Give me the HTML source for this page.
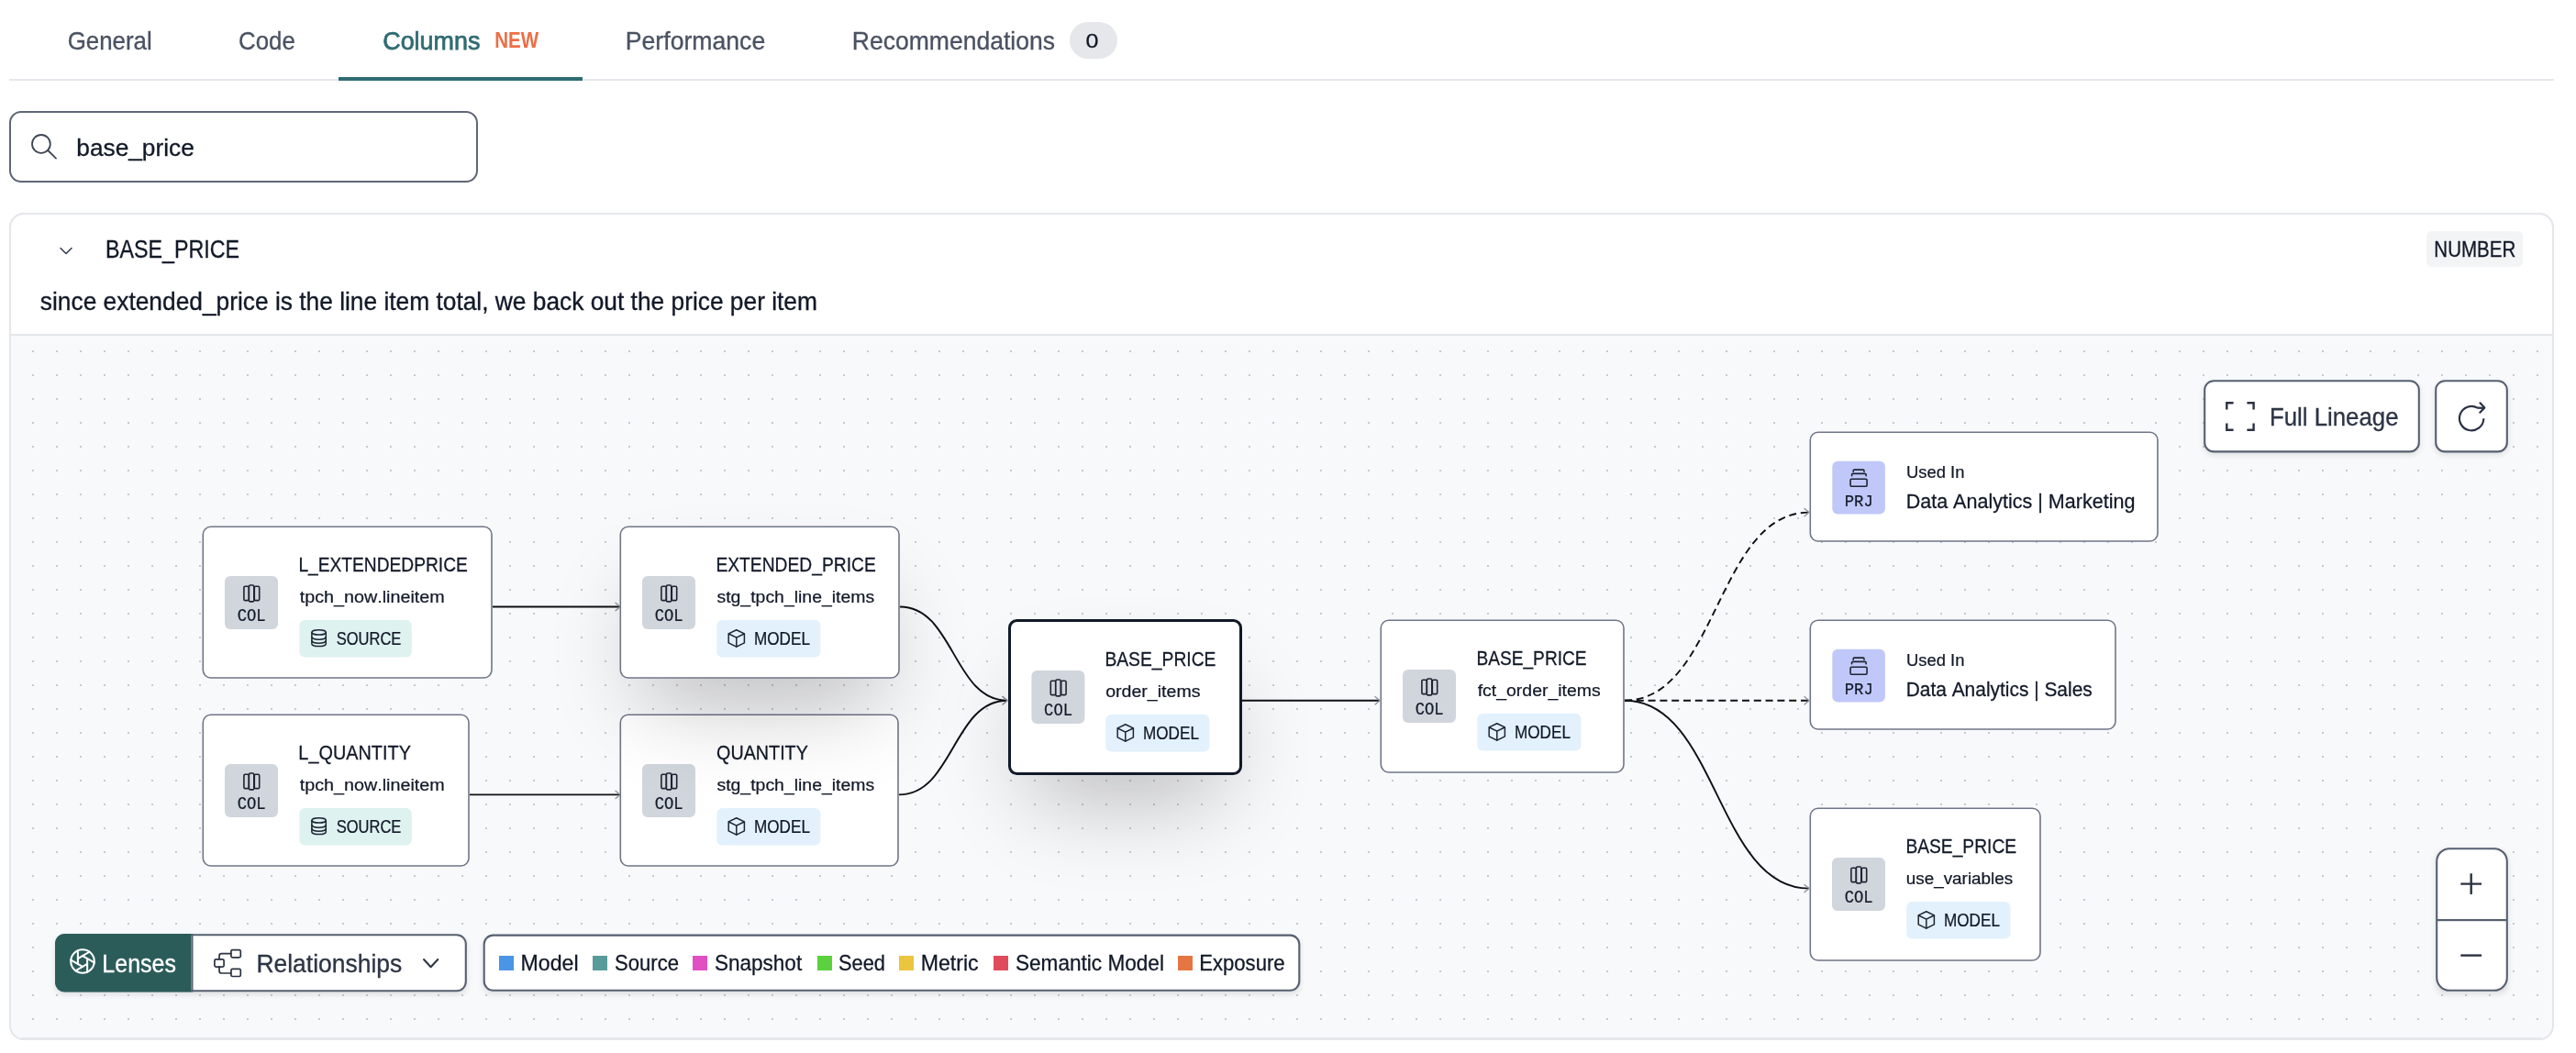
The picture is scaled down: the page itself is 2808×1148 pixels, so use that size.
<!DOCTYPE html>
<html><head><meta charset="utf-8"><title>Columns</title>
<style>
html,body{margin:0;padding:0;background:#ffffff;overflow:hidden}
svg{display:block;width:100vw;height:auto;will-change:transform}
text{font-family:"Liberation Sans",sans-serif;font-kerning:none;white-space:pre}
</style></head><body>
<svg width="2808" height="1148" viewBox="0 0 2808 1148">
<defs>
<pattern id="dots" x="0" y="0" width="26" height="26" patternUnits="userSpaceOnUse"><rect x="35" y="382" width="2" height="2" fill="#c6c9cf" transform="translate(-26,-364)"/></pattern>
<filter id="sh2xl" filterUnits="userSpaceOnUse" x="0" y="0" width="2808" height="1148"><feGaussianBlur stdDeviation="50"/></filter>
<filter id="shS" x="-20%" y="-20%" width="140%" height="160%"><feGaussianBlur stdDeviation="3"/></filter>
<marker id="arr" viewBox="0 0 20 20" refX="19" refY="10" markerWidth="20" markerHeight="20" markerUnits="userSpaceOnUse" orient="auto"><path d="M14 5.8 L19 10 L14 14.2" fill="none" stroke="#8b919c" stroke-width="1.3" stroke-linecap="round" stroke-linejoin="round"/></marker>
<marker id="arrs" viewBox="0 0 20 20" refX="1" refY="10" markerWidth="20" markerHeight="20" markerUnits="userSpaceOnUse" orient="auto"><path d="M9 4 L1 10 L9 16" fill="none" stroke="#8b919c" stroke-width="1.6" stroke-linecap="round" stroke-linejoin="round"/></marker>
<clipPath id="cardclip"><rect x="11" y="233" width="2772" height="900" rx="15"/></clipPath>
</defs>
<text x="73.70" y="54.00" font-size="27.60" fill="#4a5262" textLength="92.03" lengthAdjust="spacingAndGlyphs" stroke="#4a5262" stroke-width="0.33">General</text>
<text x="260.09" y="54.00" font-size="27.60" fill="#4a5262" textLength="61.76" lengthAdjust="spacingAndGlyphs" stroke="#4a5262" stroke-width="0.33">Code</text>
<text x="417.23" y="54.00" font-size="27.60" fill="#306b72" textLength="106.14" lengthAdjust="spacingAndGlyphs" stroke="#306b72" stroke-width="0.75">Columns</text>
<text x="539.13" y="52.00" font-size="23.70" fill="#ec6f47" textLength="47.89" lengthAdjust="spacingAndGlyphs" font-weight="bold">NEW</text>
<text x="681.82" y="54.00" font-size="27.60" fill="#4a5262" textLength="152.37" lengthAdjust="spacingAndGlyphs" stroke="#4a5262" stroke-width="0.33">Performance</text>
<text x="928.82" y="54.00" font-size="27.60" fill="#4a5262" textLength="221.13" lengthAdjust="spacingAndGlyphs" stroke="#4a5262" stroke-width="0.33">Recommendations</text>
<rect x="1166.00" y="24.00" width="52.00" height="40.00" rx="20.00" fill="#e5e7eb"/>
<text x="1183.52" y="51.80" font-size="21.50" fill="#111827" textLength="13.96" lengthAdjust="spacingAndGlyphs" stroke="#111827" stroke-width="0.26">0</text>
<rect x="10.00" y="86.00" width="2774.00" height="2.00" rx="0.00" fill="#e5e7eb"/>
<rect x="369.00" y="84.00" width="266.00" height="4.00" rx="0.00" fill="#306b72"/>
<rect x="11.00" y="122.00" width="509.00" height="76.00" rx="12.00" fill="#fff" stroke="#5f6675" stroke-width="2"/>
<circle cx="44.9" cy="156.9" r="9.9" fill="none" stroke="#3f4654" stroke-width="1.8"/>
<path d="M52.3 164 L61 172.6" fill="none" stroke="#3f4654" stroke-width="1.8" stroke-linecap="round" stroke-linejoin="round"/>
<text x="83.31" y="169.80" font-size="26.00" fill="#111827" textLength="128.46" lengthAdjust="spacingAndGlyphs" stroke="#111827" stroke-width="0.31">base_price</text>
<rect x="11.00" y="233.00" width="2772.00" height="900.00" rx="15.00" fill="#ffffff" stroke="#e5e7eb" stroke-width="2"/>
<g clip-path="url(#cardclip)">
<rect x="11.00" y="365.00" width="2772.00" height="770.00" rx="0.00" fill="#f8f9fb"/>
<rect x="11.00" y="365.00" width="2772.00" height="770.00" rx="0.00" fill="url(#dots)"/>
</g>
<rect x="11.00" y="364.00" width="2772.00" height="2.00" rx="0.00" fill="#e3e5ea"/>
<rect x="11.00" y="233.00" width="2772.00" height="900.00" rx="15.00" fill="none" stroke="#e5e7eb" stroke-width="2"/>
<rect x="24.00" y="1131.00" width="2746.00" height="3.00" rx="0.00" fill="#e5e7eb"/>
<path d="M66 270.5 L72 276.5 L78 270.5" fill="none" stroke="#374151" stroke-width="1.6" stroke-linecap="round" stroke-linejoin="round"/>
<text x="115.09" y="281.00" font-size="27.60" fill="#111827" textLength="145.90" lengthAdjust="spacingAndGlyphs" stroke="#111827" stroke-width="0.33">BASE_PRICE</text>
<rect x="2645.00" y="252.00" width="105.00" height="39.00" rx="6.00" fill="#f3f4f6"/>
<text x="2653.31" y="280.00" font-size="23.30" fill="#111827" textLength="89.04" lengthAdjust="spacingAndGlyphs" stroke="#111827" stroke-width="0.28">NUMBER</text>
<text x="43.87" y="337.80" font-size="28.00" fill="#111827" textLength="847.07" lengthAdjust="spacingAndGlyphs" stroke="#111827" stroke-width="0.34">since extended_price is the line item total, we back out the price per item</text>
<path d="M537 661.5 L676 661.5" fill="none" stroke="#0e1014" stroke-width="1.9" marker-end="url(#arr)"/>
<path d="M512 866.4 L676 866.4" fill="none" stroke="#0e1014" stroke-width="1.9" marker-end="url(#arr)"/>
<path d="M981.0 661.5 C1039.5 661.5 1039.5 763.7 1098.0 763.7" fill="none" stroke="#0e1014" stroke-width="1.9" marker-end="url(#arr)"/>
<path d="M980.0 866.4 C1039.0 866.4 1039.0 763.7 1098.0 763.7" fill="none" stroke="#0e1014" stroke-width="1.9" marker-end="url(#arr)"/>
<path d="M1354 763.7 L1504 763.7" fill="none" stroke="#0e1014" stroke-width="1.9" marker-end="url(#arr)"/>
<path d="M1771.0 763.7 C1871.5 763.7 1871.5 558.6 1972.0 558.6" fill="none" stroke="#0e1014" stroke-width="1.9" marker-end="url(#arr)" stroke-dasharray="8 4.8"/>
<path d="M1771 763.7 L1972 763.7" fill="none" stroke="#0e1014" stroke-width="1.9" marker-end="url(#arr)" stroke-dasharray="8 4.8"/>
<path d="M1771.0 763.7 C1871.5 763.7 1871.5 968.6 1972.0 968.6" fill="none" stroke="#0e1014" stroke-width="1.9" marker-end="url(#arr)"/>
<rect x="221.30" y="574.30" width="314.70" height="164.70" rx="8.50" fill="#fff" stroke="#6f7687" stroke-width="1.6"/>
<rect x="245.00" y="628.00" width="58.00" height="58.00" rx="6.00" fill="#d1d5dc"/>
<rect x="265.90" y="639.20" width="5.40" height="15.40" rx="1.40" fill="none" stroke="#1e2433" stroke-width="1.6"/>
<rect x="277.30" y="639.20" width="5.40" height="15.40" rx="1.40" fill="none" stroke="#1e2433" stroke-width="1.6"/>
<rect x="271.40" y="638.00" width="5.40" height="17.90" rx="1.40" fill="#d1d5dc" stroke="#1e2433" stroke-width="1.6"/>
<text x="258.65" y="677.00" font-size="19.40" fill="#111827" textLength="31.04" lengthAdjust="spacingAndGlyphs" style="font-family:'Liberation Mono',monospace" stroke="#111827" stroke-width="0.23">COL</text>
<text x="325.43" y="622.70" font-size="22.10" fill="#111827" textLength="184.40" lengthAdjust="spacingAndGlyphs" stroke="#111827" stroke-width="0.27">L_EXTENDEDPRICE</text>
<text x="326.70" y="656.90" font-size="18.30" fill="#111827" textLength="158.00" lengthAdjust="spacingAndGlyphs" stroke="#111827" stroke-width="0.22">tpch_now.lineitem</text>
<rect x="326.30" y="676.00" width="122.50" height="40.50" rx="6.00" fill="#def2f0"/>
<ellipse cx="347.60" cy="689.40" rx="7.7" ry="2.6" fill="none" stroke="#1e2433" stroke-width="1.5"/>
<path d="M339.90 689.40 v12.6 a7.7 2.6 0 0 0 15.4 0 v-12.6" fill="none" stroke="#1e2433" stroke-width="1.5" stroke-linecap="round" stroke-linejoin="round"/>
<path d="M339.90 694.60 a7.7 2.6 0 0 0 15.4 0" fill="none" stroke="#1e2433" stroke-width="1.5" stroke-linecap="round" stroke-linejoin="round"/>
<path d="M339.90 698.60 a7.7 2.6 0 0 0 15.4 0" fill="none" stroke="#1e2433" stroke-width="1.5" stroke-linecap="round" stroke-linejoin="round"/>
<text x="366.65" y="702.90" font-size="19.60" fill="#111827" textLength="70.76" lengthAdjust="spacingAndGlyphs" stroke="#111827" stroke-width="0.24">SOURCE</text>
<rect x="221.30" y="779.30" width="289.70" height="164.70" rx="8.50" fill="#fff" stroke="#6f7687" stroke-width="1.6"/>
<rect x="245.00" y="833.00" width="58.00" height="58.00" rx="6.00" fill="#d1d5dc"/>
<rect x="265.90" y="844.20" width="5.40" height="15.40" rx="1.40" fill="none" stroke="#1e2433" stroke-width="1.6"/>
<rect x="277.30" y="844.20" width="5.40" height="15.40" rx="1.40" fill="none" stroke="#1e2433" stroke-width="1.6"/>
<rect x="271.40" y="843.00" width="5.40" height="17.90" rx="1.40" fill="#d1d5dc" stroke="#1e2433" stroke-width="1.6"/>
<text x="258.65" y="882.00" font-size="19.40" fill="#111827" textLength="31.04" lengthAdjust="spacingAndGlyphs" style="font-family:'Liberation Mono',monospace" stroke="#111827" stroke-width="0.23">COL</text>
<text x="325.37" y="827.70" font-size="22.10" fill="#111827" textLength="122.57" lengthAdjust="spacingAndGlyphs" stroke="#111827" stroke-width="0.27">L_QUANTITY</text>
<text x="326.70" y="861.90" font-size="18.30" fill="#111827" textLength="158.00" lengthAdjust="spacingAndGlyphs" stroke="#111827" stroke-width="0.22">tpch_now.lineitem</text>
<rect x="326.30" y="881.00" width="122.50" height="40.50" rx="6.00" fill="#def2f0"/>
<ellipse cx="347.60" cy="894.40" rx="7.7" ry="2.6" fill="none" stroke="#1e2433" stroke-width="1.5"/>
<path d="M339.90 894.40 v12.6 a7.7 2.6 0 0 0 15.4 0 v-12.6" fill="none" stroke="#1e2433" stroke-width="1.5" stroke-linecap="round" stroke-linejoin="round"/>
<path d="M339.90 899.60 a7.7 2.6 0 0 0 15.4 0" fill="none" stroke="#1e2433" stroke-width="1.5" stroke-linecap="round" stroke-linejoin="round"/>
<path d="M339.90 903.60 a7.7 2.6 0 0 0 15.4 0" fill="none" stroke="#1e2433" stroke-width="1.5" stroke-linecap="round" stroke-linejoin="round"/>
<text x="366.65" y="907.90" font-size="19.60" fill="#111827" textLength="70.76" lengthAdjust="spacingAndGlyphs" stroke="#111827" stroke-width="0.24">SOURCE</text>
<rect x="676.30" y="779.30" width="302.70" height="164.70" rx="8.50" fill="#fff" stroke="#6f7687" stroke-width="1.6"/>
<rect x="700.00" y="833.00" width="58.00" height="58.00" rx="6.00" fill="#d1d5dc"/>
<rect x="720.90" y="844.20" width="5.40" height="15.40" rx="1.40" fill="none" stroke="#1e2433" stroke-width="1.6"/>
<rect x="732.30" y="844.20" width="5.40" height="15.40" rx="1.40" fill="none" stroke="#1e2433" stroke-width="1.6"/>
<rect x="726.40" y="843.00" width="5.40" height="17.90" rx="1.40" fill="#d1d5dc" stroke="#1e2433" stroke-width="1.6"/>
<text x="713.65" y="882.00" font-size="19.40" fill="#111827" textLength="31.04" lengthAdjust="spacingAndGlyphs" style="font-family:'Liberation Mono',monospace" stroke="#111827" stroke-width="0.23">COL</text>
<text x="781.07" y="827.70" font-size="22.10" fill="#111827" textLength="99.77" lengthAdjust="spacingAndGlyphs" stroke="#111827" stroke-width="0.27">QUANTITY</text>
<text x="781.46" y="861.90" font-size="18.30" fill="#111827" textLength="171.74" lengthAdjust="spacingAndGlyphs" stroke="#111827" stroke-width="0.22">stg_tpch_line_items</text>
<rect x="781.30" y="881.00" width="113.10" height="40.50" rx="6.00" fill="#e2f1fc"/>
<path d="M802.80 891.80 L811.40 895.90 L811.40 905.80 L802.80 910.20 L794.20 905.80 L794.20 895.90 Z" fill="none" stroke="#1e2433" stroke-width="1.5" stroke-linecap="round" stroke-linejoin="round"/>
<path d="M794.40 896.00 L802.80 900.10 L811.20 896.00 M802.80 900.10 V910.00" fill="none" stroke="#1e2433" stroke-width="1.5" stroke-linecap="round" stroke-linejoin="round"/>
<text x="821.99" y="907.80" font-size="19.60" fill="#111827" textLength="60.98" lengthAdjust="spacingAndGlyphs" stroke="#111827" stroke-width="0.24">MODEL</text>
<rect x="701" y="648" width="256" height="118" fill="#000" opacity="0.25" filter="url(#sh2xl)"/>
<rect x="676.30" y="574.30" width="303.70" height="164.70" rx="8.50" fill="#fff" stroke="#6f7687" stroke-width="1.6"/>
<rect x="700.00" y="628.00" width="58.00" height="58.00" rx="6.00" fill="#d1d5dc"/>
<rect x="720.90" y="639.20" width="5.40" height="15.40" rx="1.40" fill="none" stroke="#1e2433" stroke-width="1.6"/>
<rect x="732.30" y="639.20" width="5.40" height="15.40" rx="1.40" fill="none" stroke="#1e2433" stroke-width="1.6"/>
<rect x="726.40" y="638.00" width="5.40" height="17.90" rx="1.40" fill="#d1d5dc" stroke="#1e2433" stroke-width="1.6"/>
<text x="713.65" y="677.00" font-size="19.40" fill="#111827" textLength="31.04" lengthAdjust="spacingAndGlyphs" style="font-family:'Liberation Mono',monospace" stroke="#111827" stroke-width="0.23">COL</text>
<text x="780.42" y="622.70" font-size="22.10" fill="#111827" textLength="174.41" lengthAdjust="spacingAndGlyphs" stroke="#111827" stroke-width="0.27">EXTENDED_PRICE</text>
<text x="781.46" y="656.90" font-size="18.30" fill="#111827" textLength="171.74" lengthAdjust="spacingAndGlyphs" stroke="#111827" stroke-width="0.22">stg_tpch_line_items</text>
<rect x="781.30" y="676.00" width="113.10" height="40.50" rx="6.00" fill="#e2f1fc"/>
<path d="M802.80 686.80 L811.40 690.90 L811.40 700.80 L802.80 705.20 L794.20 700.80 L794.20 690.90 Z" fill="none" stroke="#1e2433" stroke-width="1.5" stroke-linecap="round" stroke-linejoin="round"/>
<path d="M794.40 691.00 L802.80 695.10 L811.20 691.00 M802.80 695.10 V705.00" fill="none" stroke="#1e2433" stroke-width="1.5" stroke-linecap="round" stroke-linejoin="round"/>
<text x="821.99" y="702.80" font-size="19.60" fill="#111827" textLength="60.98" lengthAdjust="spacingAndGlyphs" stroke="#111827" stroke-width="0.24">MODEL</text>
<rect x="1123" y="749" width="207" height="122" fill="#000" opacity="0.25" filter="url(#sh2xl)"/>
<rect x="1100.50" y="676.50" width="252.00" height="167.00" rx="8.00" fill="#fff" stroke="#111827" stroke-width="3"/>
<rect x="1124.40" y="731.00" width="58.00" height="58.00" rx="6.00" fill="#d1d5dc"/>
<rect x="1145.30" y="742.20" width="5.40" height="15.40" rx="1.40" fill="none" stroke="#1e2433" stroke-width="1.6"/>
<rect x="1156.70" y="742.20" width="5.40" height="15.40" rx="1.40" fill="none" stroke="#1e2433" stroke-width="1.6"/>
<rect x="1150.80" y="741.00" width="5.40" height="17.90" rx="1.40" fill="#d1d5dc" stroke="#1e2433" stroke-width="1.6"/>
<text x="1138.05" y="780.00" font-size="19.40" fill="#111827" textLength="31.04" lengthAdjust="spacingAndGlyphs" style="font-family:'Liberation Mono',monospace" stroke="#111827" stroke-width="0.23">COL</text>
<text x="1204.42" y="725.70" font-size="22.10" fill="#111827" textLength="121.01" lengthAdjust="spacingAndGlyphs" stroke="#111827" stroke-width="0.27">BASE_PRICE</text>
<text x="1205.18" y="759.90" font-size="18.30" fill="#111827" textLength="103.33" lengthAdjust="spacingAndGlyphs" stroke="#111827" stroke-width="0.22">order_items</text>
<rect x="1205.30" y="779.00" width="113.10" height="40.50" rx="6.00" fill="#e2f1fc"/>
<path d="M1226.80 789.80 L1235.40 793.90 L1235.40 803.80 L1226.80 808.20 L1218.20 803.80 L1218.20 793.90 Z" fill="none" stroke="#1e2433" stroke-width="1.5" stroke-linecap="round" stroke-linejoin="round"/>
<path d="M1218.40 794.00 L1226.80 798.10 L1235.20 794.00 M1226.80 798.10 V808.00" fill="none" stroke="#1e2433" stroke-width="1.5" stroke-linecap="round" stroke-linejoin="round"/>
<text x="1245.99" y="805.80" font-size="19.60" fill="#111827" textLength="60.98" lengthAdjust="spacingAndGlyphs" stroke="#111827" stroke-width="0.24">MODEL</text>
<rect x="1505.30" y="676.30" width="264.70" height="165.70" rx="8.50" fill="#fff" stroke="#6f7687" stroke-width="1.6"/>
<rect x="1529.00" y="730.00" width="58.00" height="58.00" rx="6.00" fill="#d1d5dc"/>
<rect x="1549.90" y="741.20" width="5.40" height="15.40" rx="1.40" fill="none" stroke="#1e2433" stroke-width="1.6"/>
<rect x="1561.30" y="741.20" width="5.40" height="15.40" rx="1.40" fill="none" stroke="#1e2433" stroke-width="1.6"/>
<rect x="1555.40" y="740.00" width="5.40" height="17.90" rx="1.40" fill="#d1d5dc" stroke="#1e2433" stroke-width="1.6"/>
<text x="1542.65" y="779.00" font-size="19.40" fill="#111827" textLength="31.04" lengthAdjust="spacingAndGlyphs" style="font-family:'Liberation Mono',monospace" stroke="#111827" stroke-width="0.23">COL</text>
<text x="1609.43" y="724.70" font-size="22.10" fill="#111827" textLength="120.19" lengthAdjust="spacingAndGlyphs" stroke="#111827" stroke-width="0.27">BASE_PRICE</text>
<text x="1610.72" y="758.90" font-size="18.30" fill="#111827" textLength="133.98" lengthAdjust="spacingAndGlyphs" stroke="#111827" stroke-width="0.22">fct_order_items</text>
<rect x="1610.30" y="778.00" width="113.10" height="40.50" rx="6.00" fill="#e2f1fc"/>
<path d="M1631.80 788.80 L1640.40 792.90 L1640.40 802.80 L1631.80 807.20 L1623.20 802.80 L1623.20 792.90 Z" fill="none" stroke="#1e2433" stroke-width="1.5" stroke-linecap="round" stroke-linejoin="round"/>
<path d="M1623.40 793.00 L1631.80 797.10 L1640.20 793.00 M1631.80 797.10 V807.00" fill="none" stroke="#1e2433" stroke-width="1.5" stroke-linecap="round" stroke-linejoin="round"/>
<text x="1650.99" y="804.80" font-size="19.60" fill="#111827" textLength="60.98" lengthAdjust="spacingAndGlyphs" stroke="#111827" stroke-width="0.24">MODEL</text>
<rect x="1973.30" y="471.30" width="378.70" height="118.70" rx="8.50" fill="#fff" stroke="#6f7687" stroke-width="1.6"/>
<rect x="1997.30" y="502.80" width="57.60" height="57.80" rx="6.00" fill="#bfc8f8"/>
<rect x="2017.10" y="522.20" width="18.00" height="8.00" rx="1.20" fill="none" stroke="#1e2433" stroke-width="1.6"/>
<path d="M2018.6 518.8 v-1.2 q0 -1.2 1.2 -1.2 h13.1 q1.2 0 1.2 1.2 v1.2" fill="none" stroke="#1e2433" stroke-width="1.6" stroke-linecap="round" stroke-linejoin="round"/>
<path d="M2020.2 514.2 v-0.9 q0 -1.2 1.2 -1.2 h9.4 q1.2 0 1.2 1.2 v0.9" fill="none" stroke="#1e2433" stroke-width="1.6" stroke-linecap="round" stroke-linejoin="round"/>
<text x="2010.74" y="552.00" font-size="19.20" fill="#111827" textLength="31.01" lengthAdjust="spacingAndGlyphs" style="font-family:'Liberation Mono',monospace" stroke="#111827" stroke-width="0.23">PRJ</text>
<text x="2077.98" y="521.20" font-size="19.20" fill="#111827" textLength="63.41" lengthAdjust="spacingAndGlyphs" stroke="#111827" stroke-width="0.23">Used In</text>
<text x="2077.63" y="553.90" font-size="22.10" fill="#111827" textLength="249.75" lengthAdjust="spacingAndGlyphs" stroke="#111827" stroke-width="0.27">Data Analytics | Marketing</text>
<rect x="1973.30" y="676.30" width="332.70" height="118.70" rx="8.50" fill="#fff" stroke="#6f7687" stroke-width="1.6"/>
<rect x="1997.30" y="707.80" width="57.60" height="57.80" rx="6.00" fill="#bfc8f8"/>
<rect x="2017.10" y="727.20" width="18.00" height="8.00" rx="1.20" fill="none" stroke="#1e2433" stroke-width="1.6"/>
<path d="M2018.6 723.8 v-1.2 q0 -1.2 1.2 -1.2 h13.1 q1.2 0 1.2 1.2 v1.2" fill="none" stroke="#1e2433" stroke-width="1.6" stroke-linecap="round" stroke-linejoin="round"/>
<path d="M2020.2 719.2 v-0.9 q0 -1.2 1.2 -1.2 h9.4 q1.2 0 1.2 1.2 v0.9" fill="none" stroke="#1e2433" stroke-width="1.6" stroke-linecap="round" stroke-linejoin="round"/>
<text x="2010.74" y="757.00" font-size="19.20" fill="#111827" textLength="31.01" lengthAdjust="spacingAndGlyphs" style="font-family:'Liberation Mono',monospace" stroke="#111827" stroke-width="0.23">PRJ</text>
<text x="2077.98" y="726.20" font-size="19.20" fill="#111827" textLength="63.41" lengthAdjust="spacingAndGlyphs" stroke="#111827" stroke-width="0.23">Used In</text>
<text x="2077.68" y="758.90" font-size="22.10" fill="#111827" textLength="203.07" lengthAdjust="spacingAndGlyphs" stroke="#111827" stroke-width="0.27">Data Analytics | Sales</text>
<rect x="1973.30" y="881.30" width="250.70" height="165.70" rx="8.50" fill="#fff" stroke="#6f7687" stroke-width="1.6"/>
<rect x="1997.00" y="935.00" width="58.00" height="58.00" rx="6.00" fill="#d1d5dc"/>
<rect x="2017.90" y="946.20" width="5.40" height="15.40" rx="1.40" fill="none" stroke="#1e2433" stroke-width="1.6"/>
<rect x="2029.30" y="946.20" width="5.40" height="15.40" rx="1.40" fill="none" stroke="#1e2433" stroke-width="1.6"/>
<rect x="2023.40" y="945.00" width="5.40" height="17.90" rx="1.40" fill="#d1d5dc" stroke="#1e2433" stroke-width="1.6"/>
<text x="2010.65" y="984.00" font-size="19.40" fill="#111827" textLength="31.04" lengthAdjust="spacingAndGlyphs" style="font-family:'Liberation Mono',monospace" stroke="#111827" stroke-width="0.23">COL</text>
<text x="2077.42" y="929.70" font-size="22.10" fill="#111827" textLength="120.70" lengthAdjust="spacingAndGlyphs" stroke="#111827" stroke-width="0.27">BASE_PRICE</text>
<text x="2077.77" y="963.90" font-size="18.30" fill="#111827" textLength="116.41" lengthAdjust="spacingAndGlyphs" stroke="#111827" stroke-width="0.22">use_variables</text>
<rect x="2078.30" y="983.00" width="113.10" height="40.50" rx="6.00" fill="#e2f1fc"/>
<path d="M2099.80 993.80 L2108.40 997.90 L2108.40 1007.80 L2099.80 1012.20 L2091.20 1007.80 L2091.20 997.90 Z" fill="none" stroke="#1e2433" stroke-width="1.5" stroke-linecap="round" stroke-linejoin="round"/>
<path d="M2091.40 998.00 L2099.80 1002.10 L2108.20 998.00 M2099.80 1002.10 V1012.00" fill="none" stroke="#1e2433" stroke-width="1.5" stroke-linecap="round" stroke-linejoin="round"/>
<text x="2118.99" y="1009.80" font-size="19.60" fill="#111827" textLength="60.98" lengthAdjust="spacingAndGlyphs" stroke="#111827" stroke-width="0.24">MODEL</text>
<rect x="2402.0" y="417.0" width="236.0" height="79.0" rx="10" fill="#000" opacity="0.10" filter="url(#shS)"/>
<rect x="2403.20" y="415.20" width="233.60" height="77.20" rx="10.00" fill="#fff" stroke="#566070" stroke-width="2.1"/>
<path d="M2427.3 446.5 V439.3 H2434.6 M2449.4 439.3 H2456.6 V446.5 M2456.6 461.5 V468.7 H2449.4 M2434.6 468.7 H2427.3 V461.5" fill="none" stroke="#2b3242" stroke-width="2.4" stroke-linecap="butt" stroke-linejoin="miter"/>
<text x="2473.88" y="464.20" font-size="27.60" fill="#2d3545" textLength="140.67" lengthAdjust="spacingAndGlyphs" stroke="#2d3545" stroke-width="0.33">Full Lineage</text>
<rect x="2654.0" y="417.0" width="80.0" height="79.0" rx="10" fill="#000" opacity="0.10" filter="url(#shS)"/>
<rect x="2655.20" y="415.20" width="77.60" height="77.20" rx="10.00" fill="#fff" stroke="#566070" stroke-width="2.1"/>
<path d="M2707.3 457 A13.2 13.2 0 1 1 2700.6 444.6 L2707.8 444.8" fill="none" stroke="#2b3242" stroke-width="2.2" stroke-linecap="round" stroke-linejoin="round"/>
<path d="M2703.5 439.3 L2708.3 444.6 L2703.3 449.7" fill="none" stroke="#2b3242" stroke-width="2.2" stroke-linecap="round" stroke-linejoin="round"/>
<rect x="2655.0" y="927.0" width="79.0" height="157.0" rx="10" fill="#000" opacity="0.10" filter="url(#shS)"/>
<rect x="2656.20" y="925.20" width="76.60" height="154.60" rx="14.00" fill="#fff" stroke="#566070" stroke-width="2.1"/>
<rect x="2656.00" y="1002.00" width="77.00" height="2.20" rx="0.00" fill="#566070"/>
<path d="M2682.3 963.6 H2705.1 M2693.7 952.3 V975" fill="none" stroke="#2b3242" stroke-width="2.4" stroke-linejoin="round" stroke-linecap="butt"/>
<path d="M2682.3 1041.6 H2705.1" fill="none" stroke="#2b3242" stroke-width="2.4" stroke-linejoin="round" stroke-linecap="butt"/>
<rect x="60.0" y="1021.0" width="449.0" height="63.5" rx="10" fill="#000" opacity="0.10" filter="url(#shS)"/>
<rect x="61.20" y="1019.20" width="446.60" height="61.10" rx="10.00" fill="#fff" stroke="#566070" stroke-width="2.1"/>
<path d="M70 1018 H208.5 V1081.5 H70 A10 10 0 0 1 60 1071.5 V1028 A10 10 0 0 1 70 1018 Z" fill="#2b5c5a"/>
<g transform="translate(90,1048) rotate(90) scale(1.28) translate(-12,-12)" fill="none" stroke="#fff" stroke-width="1.6" stroke-linecap="round" stroke-linejoin="round"><circle cx="12" cy="12" r="10"/><path d="m14.31 8 5.74 9.94"/><path d="M9.69 8h11.48"/><path d="m7.38 12 5.74-9.94"/><path d="M9.69 16 3.95 6.06"/><path d="M14.31 16H2.83"/><path d="m16.62 12-5.74 9.94"/></g>
<rect x="208.50" y="1018.00" width="2.00" height="63.50" rx="0.00" fill="#5b6272"/>
<text x="111.35" y="1059.80" font-size="27.30" fill="#ffffff" textLength="80.55" lengthAdjust="spacingAndGlyphs" stroke="#ffffff" stroke-width="0.33">Lenses</text>
<rect x="233.90" y="1045.80" width="10.20" height="8.40" rx="1.60" fill="none" stroke="#2b3242" stroke-width="1.7"/>
<rect x="251.90" y="1035.60" width="10.40" height="8.20" rx="1.60" fill="none" stroke="#2b3242" stroke-width="1.7"/>
<rect x="251.90" y="1056.30" width="10.40" height="8.20" rx="1.60" fill="none" stroke="#2b3242" stroke-width="1.7"/>
<path d="M239 1045.8 V1042.2 Q239 1039.7 241.5 1039.7 H251.9 M239 1054.2 V1058.5 Q239 1061 241.5 1061 H251.9" fill="none" stroke="#2b3242" stroke-width="1.7" stroke-linecap="round" stroke-linejoin="round"/>
<text x="279.43" y="1060.00" font-size="27.30" fill="#2d3545" textLength="158.83" lengthAdjust="spacingAndGlyphs" stroke="#2d3545" stroke-width="0.33">Relationships</text>
<path d="M462 1046 L469.6 1054.2 L477.3 1046" fill="none" stroke="#2b3242" stroke-width="2" stroke-linecap="round" stroke-linejoin="round"/>
<rect x="526.5" y="1021.4" width="891.0" height="62.6" rx="10" fill="#000" opacity="0.10" filter="url(#shS)"/>
<rect x="527.70" y="1019.60" width="888.60" height="60.20" rx="10.00" fill="#fff" stroke="#566070" stroke-width="2.1"/>
<rect x="544.00" y="1042.00" width="16.00" height="16.00" rx="0.00" fill="#4a95e5"/>
<text x="567.50" y="1057.70" font-size="23.80" fill="#111827" textLength="63.05" lengthAdjust="spacingAndGlyphs" stroke="#111827" stroke-width="0.29">Model</text>
<rect x="646.00" y="1042.00" width="16.00" height="16.00" rx="0.00" fill="#579c9b"/>
<text x="670.00" y="1057.70" font-size="23.80" fill="#111827" textLength="69.98" lengthAdjust="spacingAndGlyphs" stroke="#111827" stroke-width="0.29">Source</text>
<rect x="755.00" y="1042.00" width="16.00" height="16.00" rx="0.00" fill="#e24fc3"/>
<text x="778.98" y="1057.70" font-size="23.80" fill="#111827" textLength="95.19" lengthAdjust="spacingAndGlyphs" stroke="#111827" stroke-width="0.29">Snapshot</text>
<rect x="891.00" y="1042.00" width="16.00" height="16.00" rx="0.00" fill="#5ad13d"/>
<text x="914.01" y="1057.70" font-size="23.80" fill="#111827" textLength="50.89" lengthAdjust="spacingAndGlyphs" stroke="#111827" stroke-width="0.29">Seed</text>
<rect x="980.00" y="1042.00" width="16.00" height="16.00" rx="0.00" fill="#ecc53f"/>
<text x="1003.70" y="1057.70" font-size="23.80" fill="#111827" textLength="62.90" lengthAdjust="spacingAndGlyphs" stroke="#111827" stroke-width="0.29">Metric</text>
<rect x="1083.00" y="1042.00" width="16.00" height="16.00" rx="0.00" fill="#e04b5c"/>
<text x="1106.97" y="1057.70" font-size="23.80" fill="#111827" textLength="161.94" lengthAdjust="spacingAndGlyphs" stroke="#111827" stroke-width="0.29">Semantic Model</text>
<rect x="1284.00" y="1042.00" width="16.00" height="16.00" rx="0.00" fill="#e57643"/>
<text x="1307.18" y="1057.70" font-size="23.80" fill="#111827" textLength="93.50" lengthAdjust="spacingAndGlyphs" stroke="#111827" stroke-width="0.29">Exposure</text>
</svg>
</body></html>
